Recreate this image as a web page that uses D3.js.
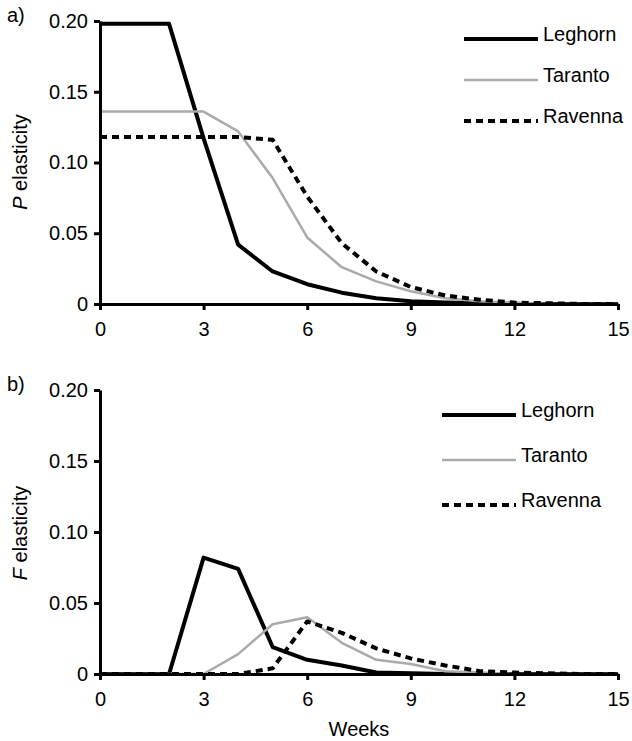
<!DOCTYPE html>
<html>
<head>
<meta charset="utf-8">
<script src="https://cdn.jsdelivr.net/npm/d3@7"></script>
<style>
  body { margin: 0; background: #fff; }
  svg text { font-family: "Liberation Sans", Arial, sans-serif; fill: #000; }
</style>
</head>
<body>
<svg id="chart" width="632" height="741"></svg>
<script>
// weeks 0..15
const weeks = d3.range(0, 16);

// panel a) P elasticity
const pLeghorn = [0.198, 0.198, 0.198, 0.117, 0.042, 0.023, 0.014, 0.008, 0.004, 0.002, 0.001, 0.0005, 0, 0, 0, 0];
const pTaranto = [0.136, 0.136, 0.136, 0.136, 0.122, 0.089, 0.047, 0.026, 0.016, 0.009, 0.004, 0.002, 0.001, 0, 0, 0];
const pRavenna = [0.118, 0.118, 0.118, 0.118, 0.118, 0.116, 0.076, 0.043, 0.023, 0.012, 0.006, 0.003, 0.001, 0.0005, 0, 0];

// panel b) F elasticity
const fLeghorn = [0, 0, 0, 0.082, 0.074, 0.019, 0.010, 0.006, 0.001, 0.0005, 0, 0, 0, 0, 0, 0];
const fTaranto = [0, 0, 0, 0, 0.014, 0.035, 0.040, 0.022, 0.010, 0.007, 0.002, 0.001, 0, 0, 0, 0];
const fRavenna = [0, 0, 0, 0, 0, 0.004, 0.037, 0.029, 0.018, 0.011, 0.006, 0.002, 0.001, 0.0005, 0, 0];

const seriesNames = ['Leghorn', 'Taranto', 'Ravenna'];
const xTicks = [0, 3, 6, 9, 12, 15];
const yTicks = [0, 0.05, 0.10, 0.15, 0.20];

const styles = {
  Leghorn: {stroke: '#000', width: 4, dash: null},
  Taranto: {stroke: '#aaaaaa', width: 2.5, dash: null},
  Ravenna: {stroke: '#000', width: 4, dash: '7,5'}
};

const FS = 20;

const svg = d3.select('#chart');
const x = d3.scaleLinear().domain([0, 15]).range([100, 618]);

const drawPanel = (cfg) => {
  const y = d3.scaleLinear().domain([0, 0.2]).range([cfg.bottom, cfg.top]);
  const g = svg.append('g');

  const line = d3.line()
    .x((d, i) => x(weeks[i]))
    .y(d => y(d));

  // lines first so the axes sit on top
  cfg.data.forEach((vals, k) => {
    const s = styles[seriesNames[k]];
    g.append('path')
      .datum(vals)
      .attr('fill', 'none')
      .attr('stroke', s.stroke)
      .attr('stroke-width', s.width)
      .attr('stroke-dasharray', s.dash)
      .attr('stroke-linejoin', 'round')
      .attr('d', line);
  });

  const xAxis = g.append('g')
    .attr('transform', 'translate(0,' + cfg.bottom + ')')
    .call(d3.axisBottom(x).tickValues(xTicks).tickSize(6).tickSizeOuter(0).tickPadding(12).tickFormat(d3.format('d')));

  const yAxis = g.append('g')
    .attr('transform', 'translate(' + x(0) + ',0)')
    .call(d3.axisLeft(y).tickValues(yTicks).tickSize(6).tickSizeOuter(0).tickPadding(6)
      .tickFormat(d => d === 0 ? '0' : d3.format('.2f')(d)));

  [xAxis, yAxis].forEach(a => {
    a.select('.domain').attr('stroke', '#000').attr('stroke-width', 3);
    a.selectAll('.tick line').attr('stroke', '#000').attr('stroke-width', 3);
    a.selectAll('.tick text').attr('font-size', FS).attr('fill', '#000');
  });

  // y title
  const t = g.append('text')
    .attr('transform', 'translate(27,' + cfg.titleY + ') rotate(-90)')
    .attr('text-anchor', 'middle')
    .attr('font-size', FS);
  t.append('tspan').attr('font-style', 'italic').text(cfg.letter);
  t.append('tspan').text(' elasticity');

  // panel label
  g.append('text')
    .attr('x', 7)
    .attr('y', cfg.top + 1)
    .attr('font-size', FS)
    .text(cfg.label);

  // legend
  seriesNames.forEach((name, k) => {
    const s = styles[name];
    const ly = cfg.legY + k * cfg.legGap;
    g.append('line')
      .attr('x1', cfg.legX).attr('x2', cfg.legX + 74)
      .attr('y1', ly).attr('y2', ly)
      .attr('stroke', s.stroke)
      .attr('stroke-width', s.width)
      .attr('stroke-dasharray', s.dash);
    g.append('text')
      .attr('x', cfg.legX + 79)
      .attr('y', ly + 2)
      .attr('font-size', FS)
      .text(name);
  });
};

drawPanel({top: 21, bottom: 304, data: [pLeghorn, pTaranto, pRavenna], letter: 'P',
  titleY: 162, label: 'a)', legX: 464, legY: 39, legGap: 41});
drawPanel({top: 390, bottom: 674, data: [fLeghorn, fTaranto, fRavenna], letter: 'F',
  titleY: 533, label: 'b)', legX: 442, legY: 415, legGap: 45});

svg.append('text')
  .attr('x', x(7.5))
  .attr('y', 736)
  .attr('text-anchor', 'middle')
  .attr('font-size', FS)
  .text('Weeks');
</script>
</body>
</html>
